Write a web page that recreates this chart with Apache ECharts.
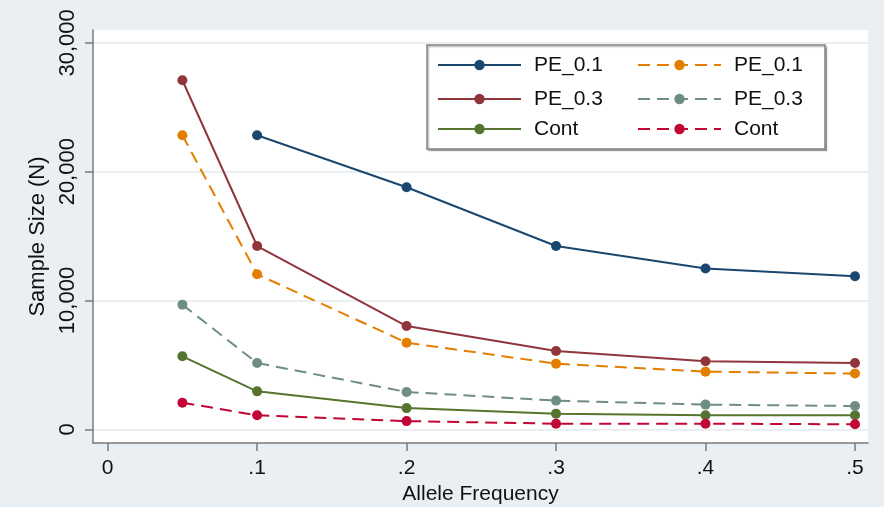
<!DOCTYPE html>
<html>
<head>
<meta charset="utf-8">
<script src="https://cdn.jsdelivr.net/npm/echarts@6/dist/echarts.min.js"></script>
<style>
html,body{margin:0;padding:0;background:#e9eff2;}
#chart{width:884px;height:507px;}
</style>
</head>
<body>
<div id="chart"></div>
<script>
// ---- data ----
const alleleFreq = [0.05, 0.1, 0.2, 0.3, 0.4, 0.5];
const pe01Solid  = [null, 22830, 18790, 14230, 12480, 11880];
const pe03Solid  = [27100, 14230, 8020, 6080, 5280, 5150];
const contSolid  = [5670, 2950, 1650, 1220, 1090, 1090];
const pe01Dash   = [22830, 12040, 6730, 5100, 4480, 4330];
const pe03Dash   = [9680, 5150, 2900, 2230, 1920, 1810];
const contDash   = [2070, 1090, 640, 440, 440, 390];
const seriesLabels = ['PE_0.1', 'PE_0.3', 'Cont', 'PE_0.1', 'PE_0.3', 'Cont'];
const xTicks = [0, 0.1, 0.2, 0.3, 0.4, 0.5];
const xTickLabels = ['0', '.1', '.2', '.3', '.4', '.5'];
const yTicks = [0, 10000, 20000, 30000];
const yTickLabels = ['0', '10,000', '20,000', '30,000'];
const xTitle = 'Allele Frequency';
const yTitle = 'Sample Size (N)';

// ---- styles ----
const allValues = [pe01Solid, pe03Solid, contSolid, pe01Dash, pe03Dash, contDash];
const colors = ['#1a476f', '#90353b', '#55752f', '#e37e00', '#6e8e84', '#c10534'];
const dashed = [false, false, false, true, true, true];
const ids = ['s0', 's1', 's2', 's3', 's4', 's5'];
const font = '"Liberation Sans", Arial, sans-serif';

const series = allValues.map((vals, i) => ({
  name: ids[i],
  type: 'line',
  data: alleleFreq.map((x, j) => vals[j] == null ? null : [x, vals[j]]).filter(d => d),
  symbol: 'circle',
  symbolSize: 10,
  color: colors[i],
  itemStyle: { color: colors[i] },
  lineStyle: { color: colors[i], width: 2, type: dashed[i] ? [12, 7] : 'solid' },
  z: 3
}));

// legend layout: two columns, three rows
const legendLeft = [437, 437, 437, 637, 637, 637];
const rowCenters = [65, 99, 129];
const legends = ids.map((id, i) => ({
  data: [id],
  orient: 'vertical',
  left: legendLeft[i],
  top: rowCenters[i % 3] - 12,
  padding: 0,
  itemWidth: 83,
  itemHeight: 13,
  selectedMode: false,
  formatter: () => seriesLabels[i],
  textStyle: { fontFamily: font, fontSize: 21, color: '#111', lineHeight: 24, padding: [0, 0, 0, 8] }
}));

const chart = echarts.init(document.getElementById('chart'));
chart.setOption({
  backgroundColor: '#e9eff2',
  animation: false,
  grid: { left: 93, top: 30, right: 16, bottom: 64, show: true, backgroundColor: '#ffffff', borderWidth: 0,
          containLabel: false, outerBoundsMode: 'none' },
  graphic: [{
    type: 'rect', z: 3,
    shape: { x: 427, y: 45, width: 398, height: 104 },
    style: { fill: '#ffffff', stroke: '#808080', lineWidth: 1.5,
             shadowColor: 'rgba(0,0,0,0.25)', shadowOffsetX: 1.5, shadowOffsetY: 1.5, shadowBlur: 1 }
  }],
  legend: legends,
  xAxis: {
    type: 'value',
    min: -0.0098, max: 0.5087,
    name: xTitle, nameLocation: 'middle', nameGap: 37,
    nameTextStyle: { fontFamily: font, fontSize: 21, color: '#111' },
    axisLine: { show: true, onZero: false, lineStyle: { color: '#7a7a7a', width: 1.5 } },
    axisTick: { show: true, length: 8, lineStyle: { color: '#7a7a7a', width: 1.5 }, customValues: xTicks },
    axisLabel: {
      customValues: xTicks, margin: 15,
      fontFamily: font, fontSize: 21, color: '#111',
      formatter: v => xTickLabels[xTicks.findIndex(t => Math.abs(t - v) < 1e-9)]
    },
    splitLine: { show: false }
  },
  yAxis: {
    type: 'value',
    min: -1060, max: 31000,
    name: yTitle, nameLocation: 'middle', nameGap: 32, nameRotate: 90,
    nameTextStyle: { fontFamily: font, fontSize: 22, color: '#111' },
    axisLine: { show: true, onZero: false, lineStyle: { color: '#7a7a7a', width: 1.5 } },
    axisTick: { show: true, length: 8, lineStyle: { color: '#7a7a7a', width: 1.5 }, customValues: yTicks },
    axisLabel: {
      customValues: yTicks, rotate: 90, margin: 14,
      fontFamily: font, fontSize: 22, color: '#111',
      formatter: v => yTickLabels[yTicks.indexOf(v)]
    },
    splitLine: { show: true, lineStyle: { color: '#e3ebee', width: 1.5 } }
  },
  series: series
});
</script>
</body>
</html>
